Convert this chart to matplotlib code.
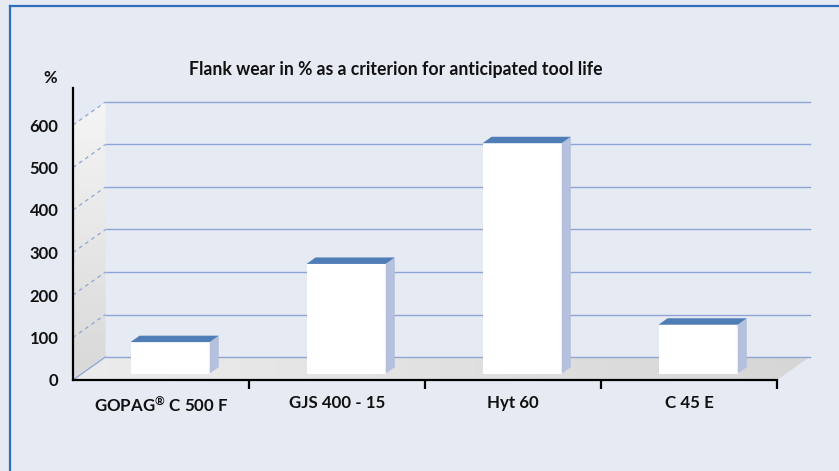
import numpy as np
import matplotlib
matplotlib.use("Agg")
import matplotlib.pyplot as plt
from matplotlib.patches import Polygon
from matplotlib.lines import Line2D

# ---------------- data ----------------
categories = ["GOPAG$^{®}$ C 500 F", "GJS 400 - 15", "Hyt 60", "C 45 E"]
values = [74, 258, 542, 115]
yticks = [0, 100, 200, 300, 400, 500, 600]
title = "Flank wear in % as a criterion for anticipated tool life"
unit_label = "%"

# ---------------- style ----------------
FONT = 'Lato'
plt.rcParams['font.family'] = [FONT, 'DejaVu Sans']
plt.rcParams['mathtext.fontset'] = 'custom'
plt.rcParams['mathtext.rm'] = FONT + ':bold'
plt.rcParams['mathtext.it'] = FONT + ':bold'
plt.rcParams['mathtext.bf'] = FONT + ':bold'

BG = "#E6EAF3"
CAP = "#4F7DB5"
SIDE = "#B3C1DE"
GRID = "#8DA5D5"
BORDER = "#2F6DB8"
TXT = "#111111"

W, H = 839, 471
fig = plt.figure(figsize=(W / 100, H / 100), dpi=100)
fig.patch.set_facecolor(BG)

# axes geometry (px)
x0, y0 = 73, 380          # front origin (from top)
px_per_cat = 176
px_per_100 = 42.5
ytop_px = 88
xmax = 4.25
ax = fig.add_axes([x0 / W, (H - y0) / H, xmax * px_per_cat / W, (y0 - ytop_px) / H])
ymax = (y0 - ytop_px) / px_per_100 * 100
ax.set_facecolor("none")

DX = 32.5 / px_per_cat          # depth offset in data units
DY = 23 / px_per_100 * 100

ncat = len(categories)

def P(x, y, t):
    return (x + t * DX, y + t * DY)

# left wall with gradient
wall_top = yticks[-1]
wall = Polygon([P(0, 0, 0), P(0, 0, 1), P(0, wall_top, 1), P(0, wall_top, 0)],
               closed=True, facecolor="none", edgecolor="none")
ax.add_patch(wall)
grad_v = np.linspace(0, 1, 256).reshape(-1, 1)
im = ax.imshow(grad_v, extent=[0, DX, 0, wall_top + DY], origin="lower",
               cmap=matplotlib.colors.LinearSegmentedColormap.from_list("w", ["#D8D8D8", "#F5F5F5"]),
               aspect="auto", zorder=1)
im.set_clip_path(wall)

# floor with gradient
floor = Polygon([P(0, 0, 0), P(ncat, 0, 0), P(ncat, 0, 1), P(0, 0, 1)],
                closed=True, facecolor="none", edgecolor="none")
ax.add_patch(floor)
grad_h = np.linspace(0, 1, 256).reshape(1, -1)
im2 = ax.imshow(grad_h, extent=[0, ncat + DX, 0, DY], origin="lower",
                cmap=matplotlib.colors.LinearSegmentedColormap.from_list("f", ["#ECECEC", "#D6D6D6"]),
                aspect="auto", zorder=1)
im2.set_clip_path(floor)

# back wall gridlines and left wall dashed lines
for v in yticks:
    bx0, by = P(0, v, 1)
    bx1, _ = P(ncat, v, 1)
    ax.plot([bx0, bx1], [by, by], color=GRID, lw=1.0, zorder=2)
    fx, fy = P(0, v, 0)
    ax.plot([fx, bx0], [fy, by], color=GRID, lw=0.9,
            ls="-" if v == 0 else (0, (3, 3)), zorder=2)

# bars
bw = 0.45
t1, t2 = 0.28, 0.56
for i, v in enumerate(values):
    c = i + 0.5
    l, r = c - bw / 2, c + bw / 2
    front = Polygon([P(l, 0, t1), P(r, 0, t1), P(r, v, t1), P(l, v, t1)],
                    closed=True, facecolor="white", edgecolor="none", zorder=3)
    side = Polygon([P(r, 0, t1), P(r, 0, t2), P(r, v, t2), P(r, v, t1)],
                   closed=True, facecolor=SIDE, edgecolor="none", zorder=3)
    cap = Polygon([P(l, v, t1), P(r, v, t1), P(r, v, t2), P(l, v, t2)],
                  closed=True, facecolor=CAP, edgecolor="none", zorder=3)
    for p in (front, side, cap):
        ax.add_patch(p)

ax.set_xlim(0, xmax)
ax.set_ylim(0, ymax)

# spines
for s in ("top", "right"):
    ax.spines[s].set_visible(False)
for s in ("left", "bottom"):
    ax.spines[s].set_linewidth(1.6)
    ax.spines[s].set_color("black")
    ax.spines[s].set_zorder(5)
ax.spines["bottom"].set_bounds(0, ncat)

# ticks
ax.set_xticks(range(1, ncat + 1))
ax.set_xticklabels([])
ax.tick_params(axis="x", which="major", direction="out", length=6.5, width=1.6, color="black")
ax.set_xticks([i + 0.5 for i in range(ncat)], minor=True)
ax.set_xticklabels(categories, minor=True, fontsize=12.2, fontweight="bold", color=TXT)
ax.tick_params(axis="x", which="minor", length=0, pad=11)
ax.set_yticks(yticks)
ax.set_yticklabels([str(v) for v in yticks], fontsize=12, fontweight="bold", color=TXT)
ax.tick_params(axis="y", length=0, pad=10.5)

# title & unit label
fig.text(396 / W, 1 - 70 / H, title, ha="center", va="center", fontsize=12.7,
         fontweight="bold", color=TXT)
fig.text(50 / W, 1 - 78 / H, unit_label, ha="center", va="center", fontsize=12,
         fontweight="bold", color=TXT)

# frame border (top & left)
fig.add_artist(Line2D([10 / W, 1], [1 - 6 / H, 1 - 6 / H], color=BORDER, lw=1.6))
fig.add_artist(Line2D([10 / W, 10 / W], [0, 1 - 6 / H], color=BORDER, lw=1.6))

fig.savefig("out.png", dpi=100, facecolor=BG)
